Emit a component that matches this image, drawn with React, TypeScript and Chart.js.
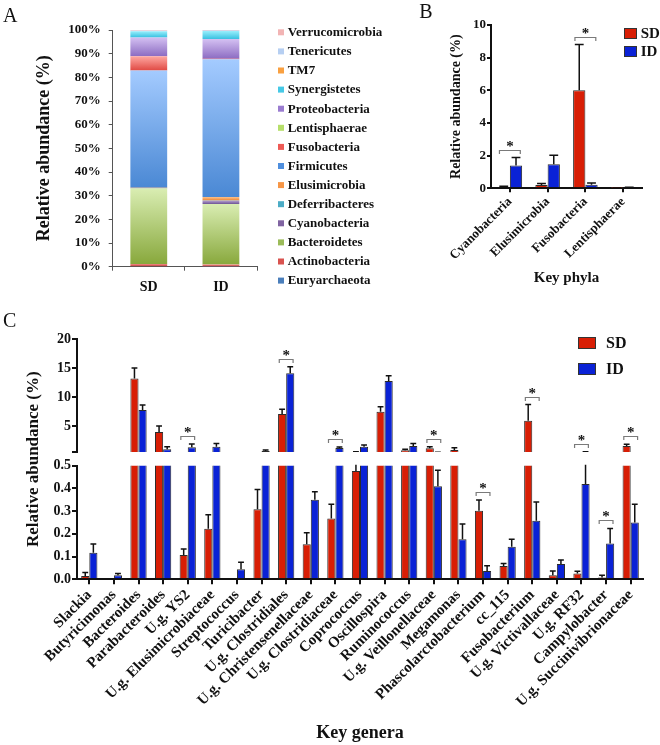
import React, { useEffect, useRef } from 'react';
import { Chart, registerables } from 'chart.js';

Chart.register(...registerables);

const SERIF = '"Liberation Serif", "Times New Roman", Times, serif';
const INK = '#111111';
const RED = '#d81e05';
const BLUE = '#0a22d6';
const BAR_EDGE = '#2b2b2b';

// ---------------- Panel A: phylum composition (%) ----------------
const A_GROUPS = ['SD', 'ID'];
const A_PHYLA = [
  'Euryarchaeota', 'Actinobacteria', 'Bacteroidetes', 'Cyanobacteria', 'Deferribacteres',
  'Elusimicrobia', 'Firmicutes', 'Fusobacteria', 'Lentisphaerae', 'Proteobacteria',
  'Synergistetes', 'TM7', 'Tenericutes', 'Verrucomicrobia',
];
const A_SD = [0.2, 0.9, 31.9, 0.08, 0.05, 0.2, 49.6, 6.0, 0.02, 7.9, 2.6, 0.03, 0.2, 0.22];
const A_ID = [0.1, 0.8, 25.6, 1.39, 0.1, 1.47, 58.17, 0.22, 0.05, 8.25, 3.4, 0.05, 0.2, 0.2];
const A_TICKS = [0, 10, 20, 30, 40, 50, 60, 70, 80, 90, 100];
// [legend, light (top of segment), dark (bottom of segment)]
const A_COLORS = [
  ['#4a7ebb', '#7fa8dc', '#3a6aa8'],
  ['#d9534f', '#f08a86', '#c0403c'],
  ['#9bbb59', '#d9edb2', '#88a83c'],
  ['#8064a2', '#b4a0d0', '#6e5494'],
  ['#4bacc6', '#8ed4e6', '#3898b2'],
  ['#f79646', '#fbc48f', '#ee8430'],
  ['#4f8fde', '#a4cbff', '#4a88d4'],
  ['#ee5a55', '#ffa8a2', '#e04a44'],
  ['#b6df6a', '#dcf2ae', '#a6d25a'],
  ['#9a7cd0', '#d4c0f2', '#8c6cc2'],
  ['#46c9e6', '#98eefc', '#38c0e0'],
  ['#f9a040', '#fcc888', '#f59030'],
  ['#b6cff2', '#d2e2fa', '#9fc0ee'],
  ['#f2b4b4', '#f8d0d0', '#eaa0a0'],
];

// ---------------- Panel B: key phyla ----------------
const B_PHYLA = ['Cyanobacteria', 'Elusimicrobia', 'Fusobacteria', 'Lentisphaerae'];
const B_SD = [0.08, 0.2, 6.0, 0.01];
const B_SD_SEM = [0.04, 0.1, 2.8, 0.005];
const B_ID = [1.39, 1.47, 0.22, 0.05];
const B_ID_SEM = [0.49, 0.55, 0.1, 0.02];
const B_SIG = [0, 2];
const B_TICKS = [0, 2, 4, 6, 8, 10];

// ---------------- Panel C: key genera ----------------
const C_GENERA = [
  'Slackia', 'Butyricimonas', 'Bacteroides', 'Parabacteroides', 'U.g. YS2',
  'U.g. Elusimicrobiaceae', 'Streptococcus', 'Turicibacter', 'U.g. Clostridiales',
  'U.g. Christensenellaceae', 'U.g. Clostridiaceae', 'Coprococcus', 'Oscillospira',
  'Ruminococcus', 'U.g. Veillonellaceae', 'Megamonas', 'Phascolarctobacterium', 'cc_115',
  'Fusobacterium', 'U.g. Victivallaceae', 'U.g. RF32', 'Campylobacter', 'U.g. Succinivibrionaceae',
];
const C_SD = [0.015, 0, 13.2, 3.97, 0.107, 0.222, 0, 0.308, 7.07, 0.154, 0.268, 0.477, 7.47, 0.81, 1.15, 0.86, 0.302, 0.058, 5.9, 0.018, 0.026, 0.008, 1.55];
const C_SD_SEM = [0.015, 0, 1.8, 1.03, 0.026, 0.062, 0, 0.087, 0.83, 0.051, 0.062, 0.1, 0.86, 0.17, 0.28, 0.4, 0.047, 0.012, 2.8, 0.019, 0.009, 0.01, 0.3];
const C_ID = [0.117, 0.018, 7.76, 0.98, 1.33, 1.43, 0.044, 0.69, 14.1, 0.35, 1.2, 1.43, 12.76, 1.55, 0.41, 0.176, 0.036, 0.143, 0.258, 0.067, 0.42, 0.158, 0.25];
const C_ID_SEM = [0.038, 0.008, 0.84, 0.45, 0.57, 0.57, 0.031, 0.17, 1.1, 0.035, 0.18, 0.29, 0.91, 0.45, 0.07, 0.067, 0.024, 0.033, 0.082, 0.018, 0.16, 0.066, 0.08];
const C_SIG = [4, 8, 10, 14, 16, 18, 20, 21, 22];
const C_BREAK = 0.5;
const C_TOP_TICKS = [0.5, 5, 10, 15, 20];
const C_BOTTOM_TICKS = [0, 0.1, 0.2, 0.3, 0.4, 0.5];

type Any = any;

const boldFont = (size: number) => ({ family: SERIF, size, weight: 'bold' as const });

function letterPlugin(text: string, x: number, y: number) {
  return {
    id: 'letter' + text,
    afterDraw(chart: Any) {
      const ctx = chart.ctx;
      ctx.save();
      ctx.font = `20px ${SERIF}`;
      ctx.fillStyle = INK;
      ctx.textAlign = 'left';
      ctx.textBaseline = 'alphabetic';
      ctx.fillText(text, x, y);
      ctx.restore();
    },
  };
}

function boxLegendPlugin(o: { x: number; y: number; dy: number; w: number; h: number; gap: number; size: number; stroke?: string; datasets: number[] }) {
  return {
    id: 'boxLegend',
    afterDraw(chart: Any) {
      const ctx = chart.ctx;
      ctx.save();
      ctx.font = `bold ${o.size}px ${SERIF}`;
      ctx.textBaseline = 'middle';
      ctx.textAlign = 'left';
      o.datasets.forEach((di, row) => {
        const ds = chart.data.datasets[di];
        const top = o.y + row * o.dy;
        ctx.fillStyle = ds.legendColor || ds.backgroundColor;
        ctx.fillRect(o.x, top, o.w, o.h);
        if (o.stroke) {
          ctx.strokeStyle = o.stroke;
          ctx.lineWidth = 1;
          ctx.strokeRect(o.x + 0.5, top + 0.5, o.w - 1, o.h - 1);
        }
        ctx.fillStyle = INK;
        ctx.fillText(ds.label, o.x + o.w + o.gap, top + o.h / 2 + 0.5);
      });
      ctx.restore();
    },
  };
}

const errorBarPlugin = {
  id: 'errorBars',
  afterDatasetsDraw(chart: Any) {
    const ctx = chart.ctx;
    const area = chart.chartArea;
    chart.data.datasets.forEach((ds: Any, di: number) => {
      if (!ds.errors) return;
      const meta = chart.getDatasetMeta(di);
      const ys = meta.vScale;
      ctx.save();
      ctx.beginPath();
      ctx.rect(area.left, ys.top - 1, area.right - area.left, ys.bottom - ys.top + 1);
      ctx.clip();
      ctx.strokeStyle = INK;
      ctx.lineWidth = 1.5;
      meta.data.forEach((bar: Any, i: number) => {
        const v = ds.data[i];
        const e = ds.errors[i];
        if (!e) return;
        const y0 = ys.getPixelForValue(v);
        const y1 = ys.getPixelForValue(v + e);
        const cap = bar.width * 0.36;
        ctx.beginPath();
        ctx.moveTo(bar.x, y0);
        ctx.lineTo(bar.x, y1);
        ctx.moveTo(bar.x - cap, y1);
        ctx.lineTo(bar.x + cap, y1);
        ctx.stroke();
      });
      ctx.restore();
    });
  },
};

function sigPlugin(indices: number[], a: number, b: number, pick: (up: number) => string) {
  return {
    id: 'sig',
    afterDatasetsDraw(chart: Any) {
      const ctx = chart.ctx;
      const dsA = chart.data.datasets[a];
      const dsB = chart.data.datasets[b];
      const mA = chart.getDatasetMeta(a);
      const mB = chart.getDatasetMeta(b);
      ctx.save();
      for (const i of indices) {
        const up = Math.max(dsA.data[i] + (dsA.errors[i] || 0), dsB.data[i] + (dsB.errors[i] || 0));
        const ys = chart.scales[pick(up)];
        const y = Math.round(ys.getPixelForValue(up) - 8) + 0.5;
        const ba = mA.data[i];
        const bb = mB.data[i];
        const x1 = ba.x - ba.width * 0.35;
        const x2 = bb.x + bb.width * 0.35;
        ctx.strokeStyle = '#7a7a7a';
        ctx.lineWidth = 1.2;
        ctx.beginPath();
        ctx.moveTo(x1, y + 3.5);
        ctx.lineTo(x1, y);
        ctx.lineTo(x2, y);
        ctx.lineTo(x2, y + 3.5);
        ctx.stroke();
        ctx.fillStyle = INK;
        ctx.font = `bold 15px ${SERIF}`;
        ctx.textAlign = 'center';
        ctx.textBaseline = 'alphabetic';
        ctx.fillText('*', (x1 + x2) / 2, y);
      }
      ctx.restore();
    },
  };
}

// clip each dataset to the band of its own value axis (broken axis)
const segmentClipPlugin = {
  id: 'segmentClip',
  beforeDatasetDraw(chart: Any, args: Any) {
    const ys = args.meta.vScale;
    const a = chart.chartArea;
    chart.ctx.save();
    chart.ctx.beginPath();
    chart.ctx.rect(a.left, ys.top, a.right - a.left, ys.bottom - ys.top);
    chart.ctx.clip();
  },
  afterDatasetDraw(chart: Any) {
    chart.ctx.restore();
  },
};

function spanTitlePlugin(text: string, x: number, topId: string, botId: string, size: number) {
  return {
    id: 'spanTitle',
    afterDraw(chart: Any) {
      const t = chart.scales[topId];
      const b = chart.scales[botId];
      const ctx = chart.ctx;
      ctx.save();
      ctx.translate(x, (t.top + b.bottom) / 2);
      ctx.rotate(-Math.PI / 2);
      ctx.font = `bold ${size}px ${SERIF}`;
      ctx.fillStyle = INK;
      ctx.textAlign = 'center';
      ctx.textBaseline = 'middle';
      ctx.fillText(text, 0, 0);
      ctx.restore();
    },
  };
}

function gradientFill(k: number) {
  return (c: Any) => {
    const [mid, light, dark] = A_COLORS[k];
    if (c.type !== 'data') return mid;
    const chart = c.chart;
    const y = chart.scales && chart.scales.y;
    if (!y || !chart.chartArea) return mid;
    let start = 0;
    for (let j = 0; j < k; j++) start += chart.data.datasets[j].data[c.dataIndex];
    const end = start + chart.data.datasets[k].data[c.dataIndex];
    const p0 = y.getPixelForValue(start);
    const p1 = y.getPixelForValue(end);
    if (!isFinite(p0) || !isFinite(p1) || Math.abs(p0 - p1) < 1) return mid;
    const g = chart.ctx.createLinearGradient(0, p1, 0, p0);
    g.addColorStop(0, light);
    g.addColorStop(1, dark);
    return g;
  };
}

export default function App() {
  const aRef = useRef<HTMLCanvasElement>(null);
  const bRef = useRef<HTMLCanvasElement>(null);
  const cRef = useRef<HTMLCanvasElement>(null);

  useEffect(() => {
    const charts: Chart[] = [];

    // ---------- Panel A ----------
    charts.push(new Chart(aRef.current as HTMLCanvasElement, {
      type: 'bar',
      data: {
        labels: A_GROUPS,
        datasets: A_PHYLA.map((name, k) => ({
          label: name,
          data: [A_SD[k], A_ID[k]],
          backgroundColor: gradientFill(k),
          legendColor: A_COLORS[k][0],
          borderWidth: 0,
          barPercentage: 0.51,
          categoryPercentage: 1,
        })) as Any,
      },
      options: {
        animation: false,
        responsive: false,
        events: [],
        layout: { padding: { top: 30, right: 143, left: 0, bottom: 0 } },
        plugins: { legend: { display: false }, tooltip: { enabled: false } },
        scales: {
          x: {
            stacked: true,
            grid: { drawOnChartArea: false, offset: true, tickLength: 4, color: '#555', lineWidth: 1 },
            border: { color: '#555', width: 1 },
            ticks: { color: INK, font: boldFont(14), padding: 8 },
            afterFit: (s: Any) => { s.height = 33.3; },
          },
          y: {
            stacked: true,
            min: 0,
            max: 100,
            afterBuildTicks: (s: Any) => { s.ticks = A_TICKS.map((value) => ({ value })); },
            grid: { drawOnChartArea: false, tickLength: 4, color: '#555', lineWidth: 1 },
            border: { color: '#555', width: 1 },
            ticks: { autoSkip: false, color: INK, font: boldFont(13), padding: 8, callback: (v: Any) => v + '%' },
            title: { display: true, text: 'Relative abundance (%)', color: INK, font: boldFont(18), padding: { top: 34, bottom: 0 } },
            afterFit: (s: Any) => { s.width = 112.7; },
          },
        },
      } as Any,
      plugins: [
        boxLegendPlugin({ x: 278, y: 29.3, dy: 19.1, w: 6, h: 6, gap: 3.7, size: 13, datasets: A_PHYLA.map((_, k) => A_PHYLA.length - 1 - k) }),
        letterPlugin('A', 3, 21.7),
      ],
    }));

    // ---------- Panel B ----------
    charts.push(new Chart(bRef.current as HTMLCanvasElement, {
      type: 'bar',
      data: {
        labels: B_PHYLA,
        datasets: [
          { label: 'SD', data: B_SD, errors: B_SD_SEM, backgroundColor: RED, borderColor: BAR_EDGE, borderWidth: 1, categoryPercentage: 0.65, barPercentage: 1 },
          { label: 'ID', data: B_ID, errors: B_ID_SEM, backgroundColor: BLUE, borderColor: BAR_EDGE, borderWidth: 1, categoryPercentage: 0.65, barPercentage: 1 },
        ] as Any,
      },
      options: {
        animation: false,
        responsive: false,
        events: [],
        layout: { padding: { top: 25, right: 18, left: 0, bottom: 0 } },
        plugins: { legend: { display: false }, tooltip: { enabled: false } },
        scales: {
          x: {
            offset: true,
            grid: { drawOnChartArea: false, offset: false, tickLength: 4, color: INK, lineWidth: 2 },
            border: { color: INK, width: 2 },
            ticks: { autoSkip: false, minRotation: 45, maxRotation: 45, padding: 2, color: INK, font: boldFont(13) },
            title: { display: true, text: 'Key phyla', color: INK, font: boldFont(15), padding: { top: 0, bottom: 13 } },
            afterFit: (s: Any) => { s.height = 111.7; },
          },
          y: {
            min: 0,
            max: 10,
            afterBuildTicks: (s: Any) => { s.ticks = B_TICKS.map((value) => ({ value })); },
            grid: { drawOnChartArea: false, tickLength: 4, color: INK, lineWidth: 2 },
            border: { color: INK, width: 2 },
            ticks: { autoSkip: false, padding: 1, color: INK, font: boldFont(13) },
            title: { display: true, text: 'Relative abundance (%)', color: INK, font: boldFont(14), padding: { top: 48, bottom: 0 } },
            afterFit: (s: Any) => { s.width = 91; },
          },
        },
      } as Any,
      plugins: [
        errorBarPlugin,
        sigPlugin(B_SIG, 0, 1, () => 'y'),
        boxLegendPlugin({ x: 224, y: 28, dy: 18, w: 13, h: 11, gap: 3.7, size: 15, stroke: '#333', datasets: [0, 1] }),
        letterPlugin('B', 19.3, 18.3),
      ],
    }));

    // ---------- Panel C (broken y axis) ----------
    const barStyle = { borderColor: BAR_EDGE, borderWidth: 1, categoryPercentage: 0.66, barPercentage: 1, clip: false };
    const yCommon = {
      type: 'linear',
      position: 'left',
      stack: 'c',
      stacked: false,
      grid: { drawOnChartArea: false, tickLength: 5, color: INK, lineWidth: 2 },
      border: { color: INK, width: 2 },
      afterFit: (s: Any) => { s.width = 77; },
    };
    charts.push(new Chart(cRef.current as HTMLCanvasElement, {
      type: 'bar',
      data: {
        labels: C_GENERA,
        datasets: [
          { label: 'SD', data: C_SD, errors: C_SD_SEM, yAxisID: 'yTop', stack: 'SD', backgroundColor: RED, ...barStyle },
          { label: 'ID', data: C_ID, errors: C_ID_SEM, yAxisID: 'yTop', stack: 'ID', backgroundColor: BLUE, ...barStyle },
          { label: 'SD', data: C_SD, errors: C_SD_SEM, yAxisID: 'yBot', stack: 'SD', backgroundColor: RED, ...barStyle },
          { label: 'ID', data: C_ID, errors: C_ID_SEM, yAxisID: 'yBot', stack: 'ID', backgroundColor: BLUE, ...barStyle },
        ] as Any,
      },
      options: {
        animation: false,
        responsive: false,
        events: [],
        layout: { padding: { top: 39, right: 17, left: 0, bottom: 0 } },
        plugins: { legend: { display: false }, tooltip: { enabled: false } },
        scales: {
          x: {
            type: 'category',
            offset: true,
            grid: { drawOnChartArea: false, offset: false, tickLength: 5, color: INK, lineWidth: 2 },
            border: { color: INK, width: 2 },
            ticks: { autoSkip: false, minRotation: 45, maxRotation: 45, padding: 2, color: INK, font: boldFont(15) },
            title: { display: true, text: 'Key genera', color: INK, font: boldFont(18), padding: { top: 0, bottom: 1 } },
            afterFit: (s: Any) => { s.height = 165.7; },
          },
          yTop: {
            ...yCommon,
            weight: 3,
            stackWeight: 113.1,
            min: C_BREAK,
            max: 20,
            afterBuildTicks: (s: Any) => { s.ticks = C_TOP_TICKS.map((value) => ({ value })); },
            ticks: { autoSkip: false, padding: 1, color: INK, font: boldFont(14), callback: (v: Any) => (v === C_BREAK ? '' : String(v)) },
          },
          yGap: {
            type: 'linear',
            position: 'left',
            stack: 'c',
            weight: 2,
            stackWeight: 13.6,
            display: true,
            grid: { display: false },
            border: { display: false },
            ticks: { display: false },
            afterFit: (s: Any) => { s.width = 77; },
          },
          yBot: {
            ...yCommon,
            weight: 1,
            stackWeight: 113.6,
            min: 0,
            max: C_BREAK,
            afterBuildTicks: (s: Any) => { s.ticks = C_BOTTOM_TICKS.map((value) => ({ value })); },
            ticks: { autoSkip: false, padding: 1, color: INK, font: boldFont(14), callback: (v: Any) => Number(v).toFixed(1) },
          },
        },
      } as Any,
      plugins: [
        segmentClipPlugin,
        errorBarPlugin,
        sigPlugin(C_SIG, 2, 3, (up) => (up > C_BREAK ? 'yTop' : 'yBot')),
        boxLegendPlugin({ x: 578, y: 37, dy: 26, w: 18, h: 12, gap: 10, size: 16, stroke: '#333', datasets: [2, 3] }),
        spanTitlePlugin('Relative abundance (%)', 33.3, 'yTop', 'yBot', 17),
        letterPlugin('C', 3, 27),
      ],
    }));

    return () => charts.forEach((c) => c.destroy());
  }, []);

  return (
    <div style={{ position: 'absolute', left: 0, top: 0, width: 660, height: 745, background: '#fff' }}>
      <canvas ref={aRef} width={400} height={300} style={{ position: 'absolute', left: 0, top: 0 }} />
      <canvas ref={bRef} width={260} height={300} style={{ position: 'absolute', left: 400, top: 0 }} />
      <canvas ref={cRef} width={660} height={445} style={{ position: 'absolute', left: 0, top: 300 }} />
    </div>
  );
}
